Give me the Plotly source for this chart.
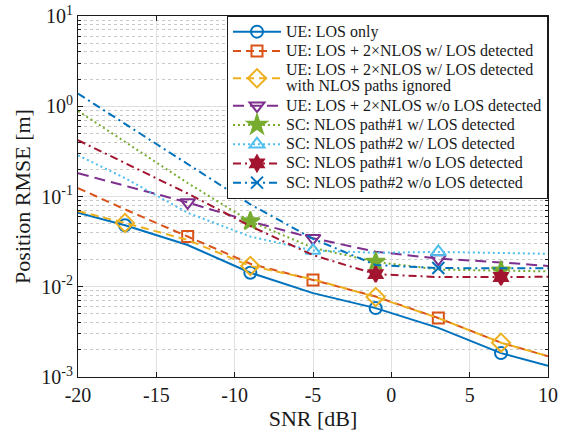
import plotly.graph_objects as go

# ---------------- data ----------------
snr = [-20, -17, -13, -9, -5, -1, 3, 7, 10]

ue_los_only      = [0.066, 0.048, 0.029, 0.0143, 0.0085, 0.0058, 0.0035, 0.00184, 0.00133]
ue_w_los         = [0.124, 0.072, 0.036, 0.018, 0.0119, 0.0078, 0.0045, 0.0024, 0.0017]
ue_w_los_ignored = [0.069, 0.051, 0.033, 0.017, 0.0121, 0.0077, 0.0045, 0.0024, 0.0017]
ue_wo_los        = [0.181, 0.132, 0.086, 0.053, 0.0345, 0.0245, 0.0205, 0.0186, 0.0170]
sc1_w_los        = [0.887, 0.40, 0.141, 0.053, 0.027, 0.0189, 0.0155, 0.0151, 0.0148]
sc2_w_los        = [0.286, 0.16, 0.066, 0.036, 0.0252, 0.0238, 0.0243, 0.0235, 0.0232]
sc1_wo_los       = [0.42, 0.234, 0.108, 0.047, 0.0224, 0.0138, 0.0128, 0.0128, 0.0129]
sc2_wo_los       = [1.38, 0.64, 0.228, 0.082, 0.034, 0.0174, 0.0161, 0.0159, 0.0160]

names = [
    ["UE: LOS only"],
    ["UE: LOS + 2×NLOS w/ LOS detected"],
    ["UE: LOS + 2×NLOS w/ LOS detected", "with NLOS paths ignored"],
    ["UE: LOS + 2×NLOS w/o LOS detected"],
    ["SC: NLOS path#1 w/ LOS detected"],
    ["SC: NLOS path#2 w/ LOS detected"],
    ["SC: NLOS path#1 w/o LOS detected"],
    ["SC: NLOS path#2 w/o LOS detected"],
]
series = [ue_los_only, ue_w_los, ue_w_los_ignored, ue_wo_los,
          sc1_w_los, sc2_w_los, sc1_wo_los, sc2_wo_los]
marker_snr = [
    [-17, -9, -1, 7],
    [-13, -5, 3],
    [-17, -9, -1, 7],
    [-13, -5, 3],
    [-9, -1, 7],
    [-5, 3],
    [-1, 7],
    [3],
]

x_ticks = [-20, -15, -10, -5, 0, 5, 10]
x_tick_text = ["-20", "-15", "-10", "-5", "0", "5", "10"]
y_ticks = [1e-3, 1e-2, 1e-1, 1e0, 1e1]
y_tick_text = ["10<sup>-3</sup>", "10<sup>-2</sup>", "10<sup>-1</sup>",
               "10<sup>0</sup>", "10<sup>1</sup>"]

# ---------------- styles ----------------
colors = ["#0072BD", "#D95319", "#EDB120", "#7E2F8E",
          "#77AC30", "#4DBEEE", "#A2142F", "#0072BD"]
dashes = ["solid", "8px,5px", "8px,5px", "11px,6px",
          "2px,3px", "2px,3px", "8px,4px,2px,4px", "8px,4px,2px,4px"]
symbols = ["circle-open", "square-open", "diamond-open", "triangle-down-open",
           "star", "triangle-up-open", "hexagram", "x-thin-open"]
msizes = [12, 11, 14, 13, 14, 13, 12, 12]

FONT = "Liberation Serif, Times New Roman, serif"
TXT = "#1a1a1a"


def legend_label(lines):
    return "<br>".join(
        '<span style="font-size:16px">%s</span>' % ln for ln in lines)


fig = go.Figure()
for i, (nm, ys) in enumerate(zip(names, series)):
    lut = dict(zip(snr, ys))
    fig.add_trace(go.Scatter(
        x=snr, y=ys, mode="lines", showlegend=False, hoverinfo="skip",
        line=dict(color=colors[i], width=2, dash=dashes[i])))
    mk = dict(symbol=symbols[i], size=msizes[i], color=colors[i],
              line=dict(color=colors[i], width=2))
    fig.add_trace(go.Scatter(
        x=marker_snr[i], y=[lut[v] for v in marker_snr[i]], mode="markers",
        showlegend=False, marker=mk))
    fig.add_trace(go.Scatter(
        x=[None], y=[None], mode="lines+markers", name=legend_label(nm),
        line=dict(color=colors[i], width=2, dash=dashes[i]), marker=mk))

fig.update_layout(
    width=567, height=435,
    margin=dict(l=78, r=19, t=16, b=58, autoexpand=False),
    paper_bgcolor="white", plot_bgcolor="white",
    font=dict(family=FONT, size=20, color=TXT),
    showlegend=True,
    legend=dict(x=1, y=1, xanchor="right", yanchor="top",
                bgcolor="white", bordercolor=TXT, borderwidth=1,
                font=dict(family=FONT, size=12.5, color=TXT),
                tracegroupgap=0, itemwidth=48),
)
fig.update_xaxes(
    range=[-20, 10], tickvals=x_ticks, ticktext=x_tick_text,
    showline=True, linecolor=TXT, linewidth=1, mirror="ticks",
    ticks="inside", ticklen=5, tickcolor=TXT, automargin=False,
    showgrid=True, gridcolor="#E0E0E0", gridwidth=1, zeroline=False,
    title=dict(text="SNR [dB]", font=dict(size=22), standoff=2),
    tickfont=dict(size=20),
)
fig.update_yaxes(
    type="log", range=[-3, 1], tickvals=y_ticks, ticktext=y_tick_text,
    showline=True, linecolor=TXT, linewidth=1, mirror="ticks",
    ticks="inside", ticklen=5, tickcolor=TXT, automargin=False,
    showgrid=True, gridcolor="#E0E0E0", gridwidth=1, zeroline=False,
    minor=dict(ticks="inside", ticklen=3, tickcolor=TXT,
               showgrid=True, gridcolor="#C8C8C8", griddash="dot",
               dtick="D1"),
    title=dict(text="Position RMSE [m]", font=dict(size=22), standoff=4),
    tickfont=dict(size=20),
)

fig.write_html("out.html", config={"displayModeBar": False})

# remove the default page margin so the figure sits at the window's corner
with open("out.html", encoding="utf-8") as f:
    html = f.read()
html = html.replace("<head>", "<head><style>html,body{margin:0;padding:0;overflow:hidden}</style>", 1)
with open("out.html", "w", encoding="utf-8") as f:
    f.write(html)
